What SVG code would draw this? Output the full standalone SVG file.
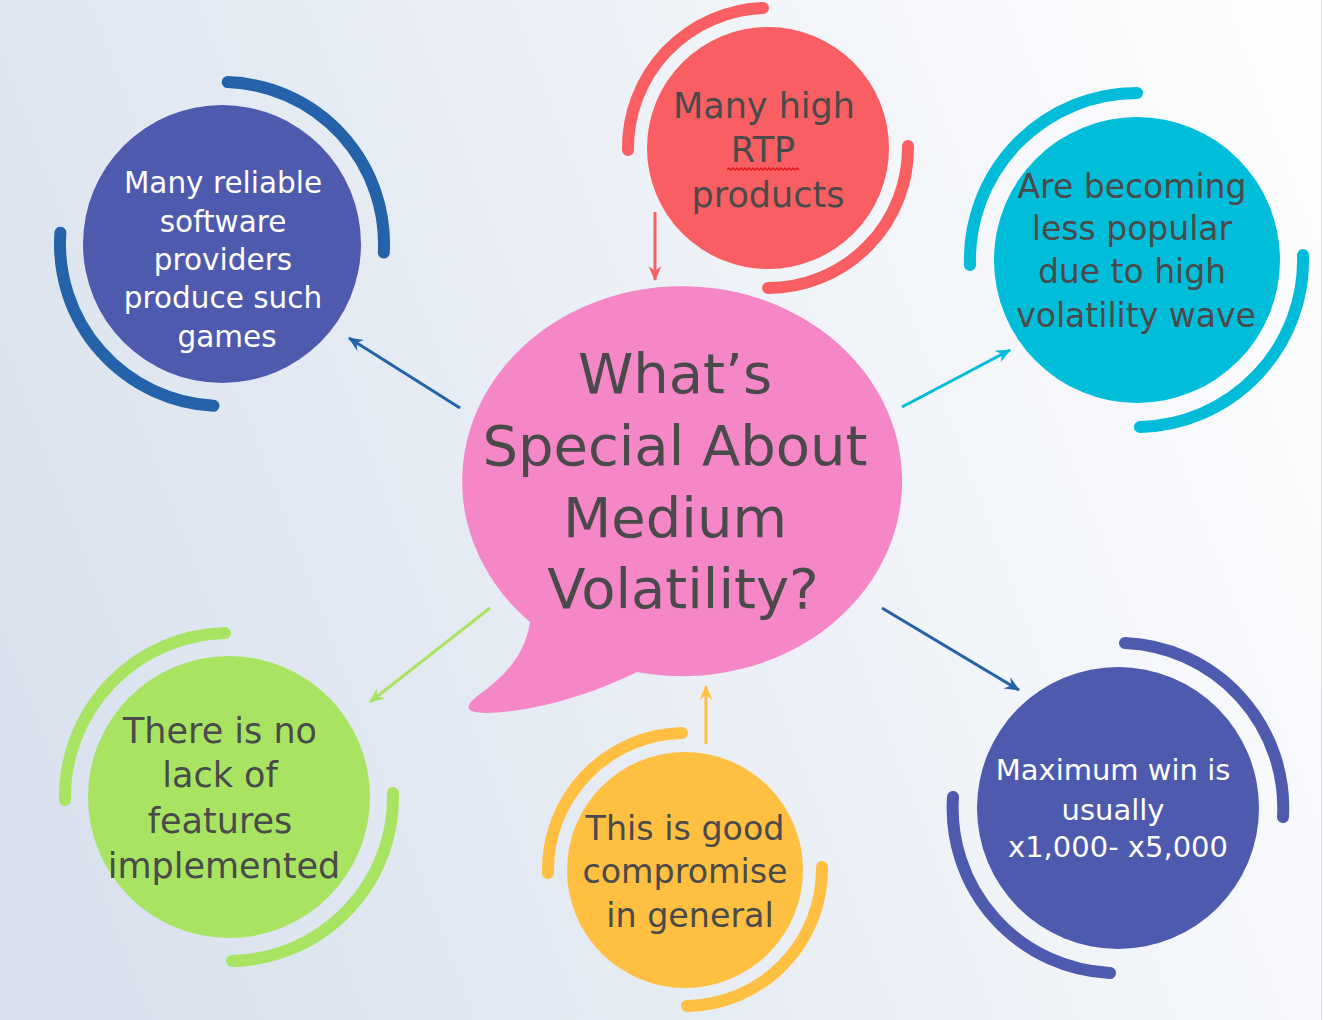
<svg xmlns="http://www.w3.org/2000/svg" width="1323" height="1020" viewBox="0 0 1323 1020">
<defs>
<linearGradient id="bg" gradientUnits="userSpaceOnUse" x1="0" y1="760" x2="1323" y2="260">
<stop offset="0" stop-color="#d8e1ed"/>
<stop offset="1" stop-color="#fdfdfe"/>
</linearGradient>
<marker id="mBlue" viewBox="0 0 16 14" refX="14" refY="7" markerWidth="16" markerHeight="14" markerUnits="userSpaceOnUse" orient="auto"><path d="M0,0.5 L15,7 L0,13.5 L5,7 Z" fill="#2462a9"/></marker>
<marker id="mRed" viewBox="0 0 16 14" refX="14" refY="7" markerWidth="16" markerHeight="14" markerUnits="userSpaceOnUse" orient="auto"><path d="M0,0.5 L15,7 L0,13.5 L5,7 Z" fill="#f95f62"/></marker>
<marker id="mCyan" viewBox="0 0 16 14" refX="14" refY="7" markerWidth="16" markerHeight="14" markerUnits="userSpaceOnUse" orient="auto"><path d="M0,0.5 L15,7 L0,13.5 L5,7 Z" fill="#00bcd9"/></marker>
<marker id="mGreen" viewBox="0 0 16 14" refX="14" refY="7" markerWidth="16" markerHeight="14" markerUnits="userSpaceOnUse" orient="auto"><path d="M0,0.5 L15,7 L0,13.5 L5,7 Z" fill="#a8e462"/></marker>
<marker id="mYellow" viewBox="0 0 16 14" refX="14" refY="7" markerWidth="16" markerHeight="14" markerUnits="userSpaceOnUse" orient="auto"><path d="M0,0.5 L15,7 L0,13.5 L5,7 Z" fill="#ffbf40"/></marker>
</defs>
<style>
.t{font-family:"DejaVu Sans","Liberation Sans",sans-serif;text-anchor:middle;fill:#4a4a4a}
.w{fill:#ffffff}
.arc{fill:none;stroke-width:12;stroke-linecap:round}
.con{fill:none;stroke-width:3}
</style>
<rect x="0" y="0" width="1323" height="1020" fill="url(#bg)"/>
<line x1="1321.5" y1="0" x2="1321.5" y2="1020" stroke="#e2e2e2" stroke-width="1"/>

<g id="connectors">
<line class="con" x1="460" y1="408" x2="349" y2="338" stroke="#2462a9" marker-end="url(#mBlue)"/>
<line class="con" x1="655" y1="212" x2="655" y2="280" stroke="#f95f62" marker-end="url(#mRed)"/>
<line class="con" x1="902" y1="407" x2="1010" y2="350" stroke="#00bcd9" marker-end="url(#mCyan)"/>
<line class="con" x1="490" y1="608" x2="370" y2="702" stroke="#a8e462" marker-end="url(#mGreen)"/>
<line class="con" x1="706" y1="744" x2="706" y2="686" stroke="#ffbf40" marker-end="url(#mYellow)"/>
<line class="con" x1="882" y1="608" x2="1019" y2="690" stroke="#2462a9" marker-end="url(#mBlue)"/>
</g>

<g id="center">
<path d="M530,622 C525,655 505,676 480,694 C462,707 466,713 486,713 C545,711 600,690 637,672 A220,195 0 1 0 530,622 Z" fill="#f587c6"/>
<text class="t" font-size="56"><tspan x="675" y="393">What’s</tspan><tspan x="675" y="465">Special About</tspan><tspan x="675" y="537">Medium</tspan><tspan x="683" y="608">Volatility?</tspan></text>
</g>

<g id="node-providers">
<path class="arc" stroke="#2462a9" d="M227.7,82.1 A162,162 0 0 1 383.8,252.5"/>
<path class="arc" stroke="#2462a9" d="M213.5,405.8 A162,162 0 0 1 60.4,232.7"/>
<circle cx="222" cy="244" r="139" fill="#4e5aad"/>
<text class="t w" font-size="29.5"><tspan x="223" y="193">Many reliable</tspan><tspan x="223" y="232">software</tspan><tspan x="223" y="270">providers</tspan><tspan x="223" y="308">produce such</tspan><tspan x="227" y="347">games</tspan></text>
</g>

<g id="node-rtp">
<path class="arc" stroke="#f95f62" d="M628,150 A140,140 0 0 1 763,8"/>
<path class="arc" stroke="#f95f62" d="M908,146 A140,140 0 0 1 768,288"/>
<circle cx="768" cy="148" r="121" fill="#f95f62"/>
<text class="t" font-size="35"><tspan x="764" y="118">Many high</tspan><tspan x="763" y="162">RTP</tspan><tspan x="768" y="207">products</tspan></text>
<path d="M727,170 l2,-2 l2,2 l2,-2 l2,2 l2,-2 l2,2 l2,-2 l2,2 l2,-2 l2,2 l2,-2 l2,2 l2,-2 l2,2 l2,-2 l2,2 l2,-2 l2,2 l2,-2 l2,2 l2,-2 l2,2 l2,-2 l2,2 l2,-2 l2,2 l2,-2 l2,2 l2,-2 l2,2 l2,-2 l2,2 l2,-2 l2,2 l2,-2 l2,2" fill="none" stroke="#e0181b" stroke-width="1.4"/>
</g>

<g id="node-popular">
<path class="arc" stroke="#00bcd9" d="M970,265 A167,167 0 0 1 1137,93"/>
<path class="arc" stroke="#00bcd9" d="M1303,255 A167,167 0 0 1 1140,427"/>
<circle cx="1137" cy="260" r="143" fill="#00bed9"/>
<text class="t" font-size="33"><tspan x="1132" y="198">Are becoming</tspan><tspan x="1132" y="240">less popular</tspan><tspan x="1132" y="283">due to high</tspan><tspan x="1136" y="327">volatility wave</tspan></text>
</g>

<g id="node-features">
<path class="arc" stroke="#a8e462" d="M65,800 A164,164 0 0 1 225,633"/>
<path class="arc" stroke="#a8e462" d="M393,793 A164,164 0 0 1 232,961"/>
<circle cx="229" cy="797" r="141" fill="#a8e462"/>
<text class="t" font-size="35"><tspan x="220" y="743">There is no</tspan><tspan x="220" y="787">lack of</tspan><tspan x="220" y="833">features</tspan><tspan x="224" y="878">implemented</tspan></text>
</g>

<g id="node-compromise">
<path class="arc" stroke="#ffbf40" d="M548,873 A137,137 0 0 1 682,733"/>
<path class="arc" stroke="#ffbf40" d="M822,867 A137,137 0 0 1 687,1006"/>
<circle cx="685" cy="870" r="118" fill="#ffbf40"/>
<text class="t" font-size="33.3"><tspan x="685" y="840">This is good</tspan><tspan x="685" y="883">compromise</tspan><tspan x="690" y="927">in general</tspan></text>
</g>

<g id="node-maxwin">
<path class="arc" stroke="#4e5aad" d="M1125,643 A165,165 0 0 1 1283,817"/>
<path class="arc" stroke="#4e5aad" d="M1110,973 A165,165 0 0 1 953,797"/>
<circle cx="1118" cy="808" r="141" fill="#4e5aad"/>
<text class="t w" font-size="29"><tspan x="1113" y="780">Maximum win is</tspan><tspan x="1113" y="820">usually</tspan><tspan x="1118" y="857">x1,000- x5,000</tspan></text>
</g>
</svg>
